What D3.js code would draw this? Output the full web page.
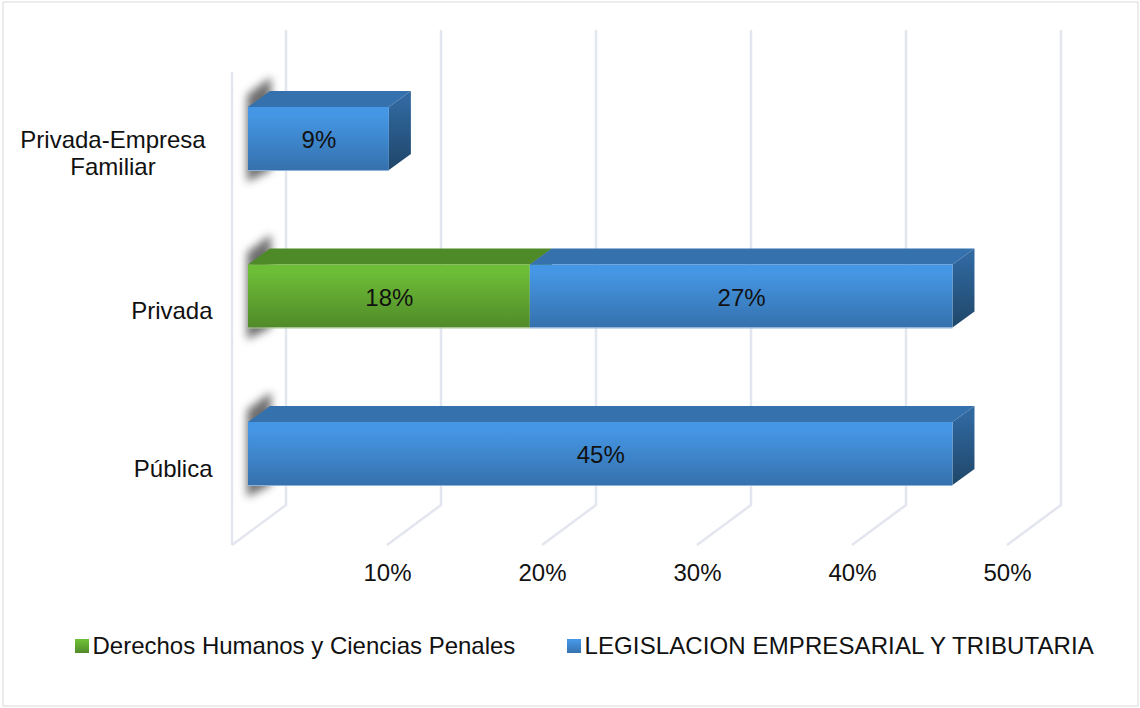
<!DOCTYPE html>
<html>
<head>
<meta charset="utf-8">
<script src="https://cdn.jsdelivr.net/npm/d3@7"></script>
<style>
  body { margin: 0; background: #fff; }
  text { font-family: "Liberation Sans", Arial, sans-serif; font-size: 24px; fill: #111; }
  .grid { fill: none; stroke: #e4e6ef; stroke-width: 2.5; }
</style>
</head>
<body>
<svg id="chart" width="1140" height="708"></svg>
<script>
const categories = ["Privada-Empresa Familiar", "Privada", "Pública"];
const categoryLines = [["Privada-Empresa", "Familiar"], ["Privada"], ["Pública"]];
const seriesNames = ["Derechos Humanos y Ciencias Penales", "LEGISLACION EMPRESARIAL Y TRIBUTARIA"];
const derechos = [0, 18.18, 0];
const legislacion = [9.09, 27.27, 45.45];
const xTicks = [10, 20, 30, 40, 50];

const svg = d3.select("#chart");
const defs = svg.append("defs");

function gradient(id, c0, c1) {
  let g = defs.append("linearGradient").attr("id", id).attr("x1", 0).attr("y1", 0).attr("x2", 0).attr("y2", 1);
  g.append("stop").attr("offset", "12%").attr("stop-color", c0);
  g.append("stop").attr("offset", "100%").attr("stop-color", c1);
}
gradient("blueFront", "#4597e5", "#3571ad");
gradient("greenFront", "#6dbd36", "#508a29");
gradient("blueSide", "#30689f", "#1f4669");
gradient("greenSide", "#3f6e20", "#2c4d17");
defs.append("filter").attr("id", "blur").attr("filterUnits", "userSpaceOnUse")
  .attr("x", 200).attr("y", 0).attr("width", 120).attr("height", 600)
  .attr("color-interpolation-filters", "sRGB")
  .append("feGaussianBlur").attr("stdDeviation", 4);

// outer frame
svg.append("rect").attr("x", 3).attr("y", 2).attr("width", 1135).attr("height", 704)
  .attr("fill", "#fff").attr("stroke", "#d9d9d9").attr("stroke-width", 1);

// 3d depth of the plot box and of the bars
const depthX = 54, depthY = -40;
const barDepthX = 22, barDepthY = -16;
const barInset = 16;

const x = d3.scaleLinear().domain([0, 50]).range([232, 1007]);
const y = d3.scaleBand().domain(categories).range([12.5, 579.5]).padding(0.6);
const floorY = 545;
const wallTop = 30;

// gridlines, back wall plus floor
svg.append("g").selectAll("path").data([0].concat(xTicks)).join("path")
  .attr("class", "grid")
  .attr("d", d => `M${x(d) + depthX},${wallTop}V${floorY + depthY}L${x(d)},${floorY}`);
// side wall
svg.append("path").attr("class", "grid")
  .attr("d", `M${x(0)},${wallTop - depthY + 2}V${floorY}`);

// shadow on the side wall behind each bar
svg.append("g").selectAll("path").data(categories).join("path")
  .attr("fill", "#555").attr("opacity", 0.85).attr("filter", "url(#blur)")
  .attr("d", c => {
    let x0 = x(0) + barInset, t = y(c), b = t + y.bandwidth();
    return `M${x0 - 1},${t - 12}L${x0 + barDepthX + 1},${t - 30}V${b}L${x0 - 1},${b + 12}Z`;
  });

function drawBar(c, from, value, front, top, side, edge) {
  let x0 = x(from) + barInset;
  let x1 = x(from + value) + barInset;
  let t = y(c), h = y.bandwidth();
  let g = svg.append("g");
  g.append("path").attr("fill", top)
    .attr("d", `M${x0},${t}l${barDepthX},${barDepthY}H${x1 + barDepthX}l${-barDepthX},${-barDepthY}Z`);
  g.append("path").attr("fill", `url(#${side})`)
    .attr("d", `M${x1},${t}l${barDepthX},${barDepthY}v${h}l${-barDepthX},${-barDepthY}Z`);
  g.append("rect").attr("x", x0).attr("y", t).attr("width", x1 - x0).attr("height", h)
    .attr("fill", `url(#${front})`);
  g.append("line").attr("x1", x0).attr("x2", x1).attr("y1", t + h + 0.5).attr("y2", t + h + 0.5)
    .attr("stroke", edge).attr("stroke-width", 1);
  g.append("text").attr("x", (x0 + x1) / 2 + 0.5).attr("y", t + h / 2 + 9.5).attr("text-anchor", "middle")
    .text(d3.format(".0f")(value) + "%");
}

categories.forEach((c, i) => {
  if (derechos[i] > 0) drawBar(c, 0, derechos[i], "greenFront", "#4f8a28", "greenSide", "#a9c795");
});
categories.forEach((c, i) => {
  drawBar(c, derechos[i], legislacion[i], "blueFront", "#3571ac", "blueSide", "#8fb3d8");
});

// value axis
const xAxis = d3.axisBottom(x).tickValues(xTicks).tickSize(0).tickFormat(d => d + "%");
const xg = svg.append("g").attr("transform", "translate(0,561)").call(xAxis);
xg.select(".domain").remove();
xg.selectAll("text").style("font-size", "24px").style("font-family", '"Liberation Sans", Arial, sans-serif').attr("fill", "#111");

// category labels
categories.forEach((c, i) => {
  let lines = categoryLines[i];
  let cy = y(c) + y.bandwidth() / 2;
  if (lines.length > 1) {
    lines.forEach((l, j) => {
      svg.append("text").attr("x", 113).attr("y", cy + 9 + j * 27).attr("text-anchor", "middle").text(l);
    });
  } else {
    svg.append("text").attr("x", 212.5).attr("y", cy + 23).attr("text-anchor", "end").text(lines[0]);
  }
});

// legend
const legendX = [75, 567];
const legendFill = ["greenFront", "blueFront"];
const legendSpacing = [0, 0.11];
seriesNames.forEach((s, i) => {
  svg.append("rect").attr("x", legendX[i]).attr("y", 639).attr("width", 14).attr("height", 14)
    .attr("fill", `url(#${legendFill[i]})`);
  svg.append("text").attr("x", legendX[i] + 17.5).attr("y", 653.5)
    .attr("letter-spacing", legendSpacing[i]).text(s);
});
</script>
</body>
</html>
